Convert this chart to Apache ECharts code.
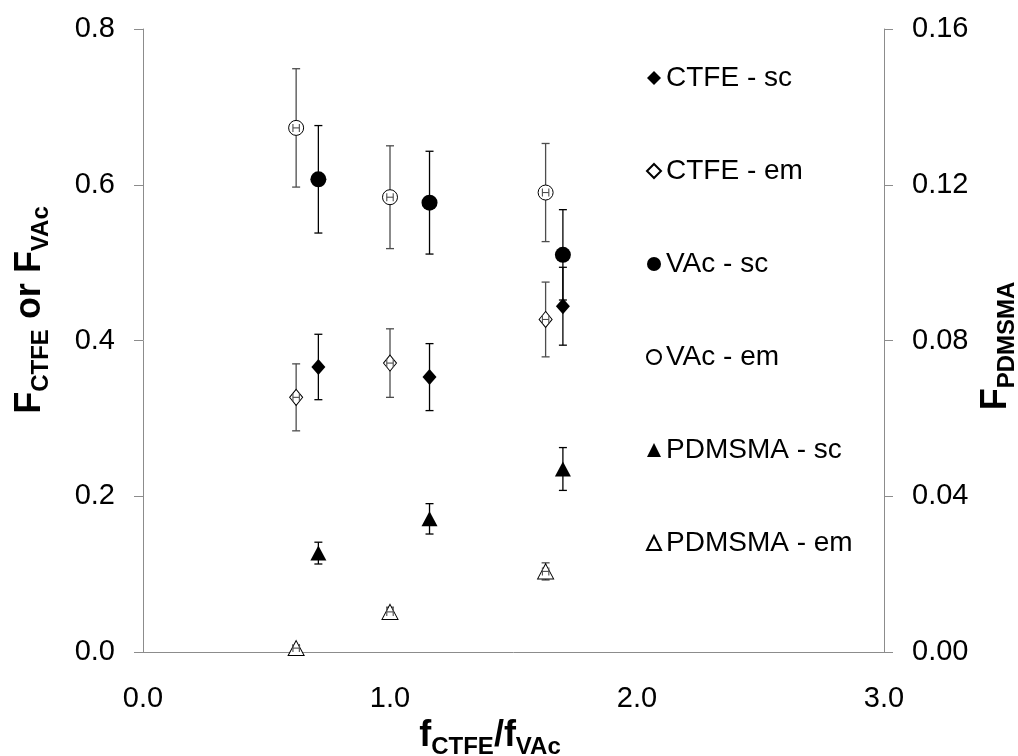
<!DOCTYPE html>
<html><head><meta charset="utf-8">
<script src="https://cdn.jsdelivr.net/npm/echarts@6/dist/echarts.min.js"></script>
<style>html,body{margin:0;padding:0;background:#fff}#c{width:1018px;height:756px}</style>
</head><body><div id="c"></div>
<script>
// x positions (f_CTFE/f_VAc)
const xSc = [0.71, 1.16, 1.70];
const xEm = [0.62, 1.00, 1.63];
const xErrEm = [0.013, 0.013, 0.013];
// CTFE
const ctfeSc = [0.366, 0.353, 0.444];
const ctfeScErr = [0.042, 0.043, 0.050];
const ctfeEm = [0.327, 0.371, 0.427];
const ctfeEmErr = [0.043, 0.044, 0.048];
// VAc
const vacSc = [0.607, 0.577, 0.510];
const vacScErr = [0.069, 0.066, 0.058];
const vacEm = [0.673, 0.584, 0.590];
const vacEmErr = [0.076, 0.066, 0.063];
// PDMSMA (right axis)
const pdmsSc = [0.0254, 0.0342, 0.047];
const pdmsScErr = [0.0028, 0.0039, 0.0055];
const pdmsEm = [0.001, 0.0103, 0.0207];
const pdmsEmErr = [0.0006, 0.0012, 0.0022];

const seriesNames = ['CTFE - sc', 'CTFE - em', 'VAc - sc', 'VAc - em', 'PDMSMA - sc', 'PDMSMA - em'];

const FONT = '"Liberation Sans", Arial, sans-serif';
const AXIS_GRAY = '#8c8c8c';

function pts(xs, ys) { return xs.map((x, i) => [x, ys[i]]); }
function errPts(xs, ys, es, xes) { return xs.map((x, i) => [x, ys[i], es[i], xes ? xes[i] : 0]); }

function vErrItem(params, api) {
  const x = api.value(0), y = api.value(1), e = api.value(2);
  const t = api.coord([x, y + e]), b = api.coord([x, y - e]);
  const c = api.visual('color');
  const st = { stroke: c, lineWidth: 1.3 };
  const cw = 4;
  return { type: 'group', children: [
    { type: 'line', shape: { x1: t[0], y1: t[1], x2: b[0], y2: b[1] }, style: st },
    { type: 'line', shape: { x1: t[0] - cw, y1: t[1], x2: t[0] + cw, y2: t[1] }, style: st },
    { type: 'line', shape: { x1: b[0] - cw, y1: b[1], x2: b[0] + cw, y2: b[1] }, style: st }
  ]};
}
function hErrItem(params, api) {
  const x = api.value(0), y = api.value(1), e = api.value(3);
  const l = api.coord([x - e, y]), r = api.coord([x + e, y]);
  const c = api.visual('color');
  const st = { stroke: c, lineWidth: 1.1 };
  const ch = 4;
  return { type: 'group', children: [
    { type: 'line', shape: { x1: l[0], y1: l[1], x2: r[0], y2: r[1] }, style: st },
    { type: 'line', shape: { x1: l[0], y1: l[1] - ch, x2: l[0], y2: l[1] + ch }, style: st },
    { type: 'line', shape: { x1: r[0], y1: r[1] - ch, x2: r[0], y2: r[1] + ch }, style: st }
  ]};
}

function vErrSeries(data, yIdx, color) {
  return { type: 'custom', yAxisIndex: yIdx, renderItem: vErrItem, data: data,
    itemStyle: { color: color }, z: 1, silent: true, encode: { x: 0, y: 1 } };
}
function hErrSeries(data, yIdx, color) {
  return { type: 'custom', yAxisIndex: yIdx, renderItem: hErrItem, data: data,
    itemStyle: { color: color }, z: 4, silent: true, encode: { x: 0, y: 1 } };
}
function scat(name, data, yIdx, symbol, size, filled) {
  return { type: 'scatter', name: name, yAxisIndex: yIdx, data: data, symbol: symbol, symbolSize: size,
    itemStyle: filled ? { color: '#000', borderColor: '#000', borderWidth: 0, opacity: 1 }
                      : { color: '#fff', borderColor: '#000', borderWidth: 1, opacity: 1 },
    z: 3, silent: true };
}

const EM_ERR = '#4d4d4d', SC_ERR = '#000';

const subRich = (m, s) => ({
  m: { fontFamily: FONT, fontWeight: 'bold', fontSize: m, lineHeight: m, verticalAlign: 'top', fill: '#000', color: '#000' },
  s: { fontFamily: FONT, fontWeight: 'bold', fontSize: s, lineHeight: s, verticalAlign: 'top', padding: [17, 0, 0, 0], fill: '#000', color: '#000' }
});

const chart = echarts.init(document.getElementById('c'), null, { renderer: 'canvas' });
chart.setOption({
  animation: false,
  backgroundColor: '#fff',
  grid: { left: 143, right: 134, top: 29, bottom: 104, containLabel: false },
  xAxis: {
    type: 'value', min: 0, max: 3, interval: 1,
    axisLine: { show: true, onZero: false, lineStyle: { color: AXIS_GRAY, width: 1 } },
    axisTick: { show: false },
    splitLine: { show: false },
    axisLabel: { fontFamily: FONT, fontSize: 29, color: '#000', margin: 32, formatter: v => v.toFixed(1) }
  },
  yAxis: [
    { type: 'value', min: 0, max: 0.8, interval: 0.2, position: 'left',
      axisLine: { show: true, onZero: false, lineStyle: { color: AXIS_GRAY, width: 1 } },
      axisTick: { show: true, inside: false, length: 9, lineStyle: { color: AXIS_GRAY } },
      splitLine: { show: false },
      axisLabel: { fontFamily: FONT, fontSize: 29, color: '#000', margin: 28, formatter: v => v.toFixed(1) } },
    { type: 'value', min: 0, max: 0.16, interval: 0.04, position: 'right',
      axisLine: { show: true, onZero: false, lineStyle: { color: AXIS_GRAY, width: 1 } },
      axisTick: { show: true, inside: false, length: 9, lineStyle: { color: AXIS_GRAY } },
      splitLine: { show: false },
      axisLabel: { fontFamily: FONT, fontSize: 29, color: '#000', margin: 28, formatter: v => v.toFixed(2) } }
  ],
  legend: {
    data: seriesNames, orient: 'vertical', left: 641, top: 58,
    itemWidth: 14, itemHeight: 14, itemGap: 63,
    textStyle: { fontFamily: FONT, fontSize: 28, color: '#000', lineHeight: 30 },
    selectedMode: false
  },
  graphic: [
    { type: 'text', x: 30, y: 310, rotation: Math.PI / 2, silent: true,
      style: { text: '{m|F}{s|CTFE}{m| or F}{s|VAc}', rich: subRich(36, 24), align: 'center', verticalAlign: 'middle' } },
    { type: 'text', x: 996, y: 346, rotation: Math.PI / 2, silent: true,
      style: { text: '{m|F}{s|PDMSMA}', rich: subRich(36, 24), align: 'center', verticalAlign: 'middle' } },
    { type: 'text', x: 490, y: 736, silent: true,
      style: { text: '{m|f}{s|CTFE}{m|/f}{s|VAc}', rich: subRich(36, 24), align: 'center', verticalAlign: 'middle' } }
  ],
  series: [
    vErrSeries(errPts(xSc, ctfeSc, ctfeScErr), 0, SC_ERR),
    vErrSeries(errPts(xEm, ctfeEm, ctfeEmErr, xErrEm), 0, EM_ERR),
    vErrSeries(errPts(xSc, vacSc, vacScErr), 0, SC_ERR),
    vErrSeries(errPts(xEm, vacEm, vacEmErr, xErrEm), 0, EM_ERR),
    vErrSeries(errPts(xSc, pdmsSc, pdmsScErr), 1, SC_ERR),
    vErrSeries(errPts(xEm, pdmsEm, pdmsEmErr, xErrEm), 1, EM_ERR),
    hErrSeries(errPts(xEm, ctfeEm, ctfeEmErr, xErrEm), 0, EM_ERR),
    hErrSeries(errPts(xEm, vacEm, vacEmErr, xErrEm), 0, EM_ERR),
    hErrSeries(errPts(xEm, pdmsEm, pdmsEmErr, xErrEm), 1, EM_ERR),
    scat('CTFE - sc', pts(xSc, ctfeSc), 0, 'diamond', [14, 16], true),
    scat('CTFE - em', pts(xEm, ctfeEm), 0, 'diamond', [13, 16], false),
    scat('VAc - sc', pts(xSc, vacSc), 0, 'circle', 16, true),
    scat('VAc - em', pts(xEm, vacEm), 0, 'circle', 15, false),
    scat('PDMSMA - sc', pts(xSc, pdmsSc), 1, 'triangle', [16, 15], true),
    scat('PDMSMA - em', pts(xEm, pdmsEm), 1, 'triangle', [16, 15], false)
  ]
});
</script>
</body></html>
